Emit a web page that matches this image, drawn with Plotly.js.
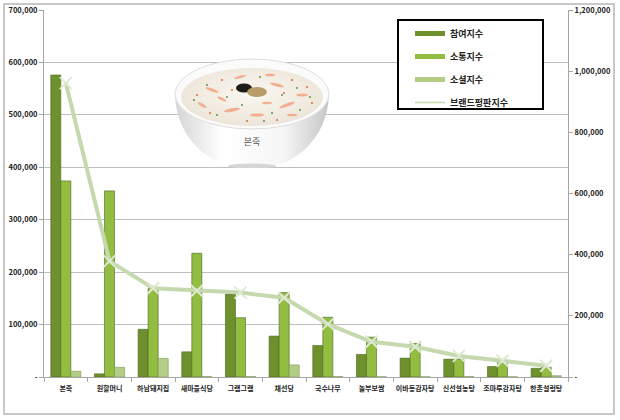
<!DOCTYPE html>
<html><head><meta charset="utf-8">
<script src="https://cdn.plot.ly/plotly-3.0.1.min.js"></script>
<style>
html,body{margin:0;padding:0;background:#fff;}
#wrap{position:relative;width:620px;height:420px;}
#chart{width:620px;height:420px;}
#frame{position:absolute;left:3px;top:3px;width:608px;height:408px;border:2px solid #c8c8c8;pointer-events:none;}
</style></head>
<body>
<div id="wrap"><div id="chart"></div><div id="frame"></div></div>
<script>
var categories = ['본죽','원할머니','하남돼지집','새마을식당','그램그램','채선당','국수나무','놀부보쌈','이바동감자탕','신선설농탕','조마루감자탕','한촌설렁탕'];
var participation = [576000, 6000, 91000, 48000, 158000, 78000, 60000, 43000, 36000, 34000, 20000, 16500];
var communication = [374000, 355000, 169000, 236000, 113000, 161000, 114000, 76000, 64000, 34000, 31000, 18500];
var social = [11000, 18500, 35600, 1000, 1000, 23000, 1000, 500, 500, 1000, 500, 2500];
var brandIndex = [961000, 379000, 290000, 282000, 276000, 259000, 173000, 115000, 99000, 69000, 53000, 37000];
var seriesNames = ['참여지수','소통지수','소셜지수','브랜드평판지수'];
var seriesColors = ['#6e912e','#92bd40','#b3cd85','#c5d8ae'];
var leftTicks = [0,100000,200000,300000,400000,500000,600000,700000];
var leftTickText = ['-','100,000','200,000','300,000','400,000','500,000','600,000','700,000'];
var rightTicks = [0,200000,400000,600000,800000,1000000,1200000];
var rightTickText = ['-','200,000','400,000','600,000','800,000','1,000,000','1,200,000'];

var FONT = '"Noto Sans CJK KR", "Noto Sans", sans-serif';

var bowlSvg = '<svg xmlns="http://www.w3.org/2000/svg" viewBox="0 0 160 113" width="160" height="113">' +
 '<defs><linearGradient id="b" x1="0" y1="0" x2="1" y2="0">' +
 '<stop offset="0" stop-color="#d4d4d4"/><stop offset="0.3" stop-color="#ffffff"/><stop offset="0.7" stop-color="#f6f6f6"/><stop offset="1" stop-color="#c6c6c6"/></linearGradient>' +
 '<radialGradient id="p" cx="0.5" cy="0.45" r="0.6"><stop offset="0" stop-color="#fbf8f2"/><stop offset="1" stop-color="#ebe3d6"/></radialGradient></defs>' +
 '<path d="M3,40 C5,88 42,108 58,111 L102,111 C118,108 155,88 157,40 Z" fill="url(#b)"/>' +
 '<ellipse cx="80" cy="111" rx="24" ry="2.5" fill="#d6d6d6"/>' +
 '<ellipse cx="80" cy="39" rx="77" ry="35" fill="#fbfbfb" stroke="#dedede" stroke-width="1"/>' +
 '<ellipse cx="80" cy="42" rx="71" ry="29" fill="url(#p)"/>' +
 '<g fill="#f1a582" opacity="0.85">' +
 '<ellipse cx="40" cy="35" rx="7" ry="1.6" transform="rotate(20 40 35)"/><ellipse cx="60" cy="55" rx="8" ry="1.7" transform="rotate(-10 60 55)"/>' +
 '<ellipse cx="105" cy="30" rx="7" ry="1.6" transform="rotate(15 105 30)"/><ellipse cx="115" cy="50" rx="8" ry="1.7" transform="rotate(-20 115 50)"/>' +
 '<ellipse cx="85" cy="60" rx="7" ry="1.6"/><ellipse cx="30" cy="50" rx="5" ry="1.4" transform="rotate(30 30 50)"/>' +
 '<ellipse cx="130" cy="40" rx="6" ry="1.4"/><ellipse cx="68" cy="22" rx="6" ry="1.4" transform="rotate(-15 68 22)"/>' +
 '<ellipse cx="95" cy="48" rx="5" ry="1.3"/><ellipse cx="50" cy="44" rx="5" ry="1.3" transform="rotate(25 50 44)"/>' +
 '<ellipse cx="120" cy="60" rx="5" ry="1.3"/><ellipse cx="98" cy="20" rx="5" ry="1.3"/>' +
 '</g><g fill="#e46f3a">' +
 '<circle cx="50" cy="25" r="1.1"/><circle cx="120" cy="25" r="1.1"/><circle cx="25" cy="40" r="1"/><circle cx="140" cy="48" r="1"/>' +
 '<circle cx="75" cy="66" r="1.1"/><circle cx="105" cy="65" r="1"/><circle cx="38" cy="58" r="1"/><circle cx="135" cy="32" r="1"/>' +
 '<circle cx="60" cy="35" r="1"/><circle cx="112" cy="38" r="1"/>' +
 '</g><g fill="#4f8a3c">' +
 '<circle cx="35" cy="30" r="0.9"/><circle cx="55" cy="42" r="0.9"/><circle cx="100" cy="58" r="0.9"/><circle cx="125" cy="33" r="0.9"/>' +
 '<circle cx="45" cy="60" r="0.9"/><circle cx="110" cy="40" r="0.9"/><circle cx="88" cy="22" r="0.9"/><circle cx="138" cy="42" r="0.9"/>' +
 '<circle cx="22" cy="45" r="0.9"/><circle cx="70" cy="50" r="0.9"/><circle cx="92" cy="66" r="0.9"/><circle cx="128" cy="55" r="0.9"/>' +
 '</g>' +
 '<ellipse cx="72" cy="33" rx="8" ry="4.5" fill="#1d1d18"/>' +
 '<ellipse cx="85" cy="37" rx="10" ry="5" fill="#b89c6a"/>' +
 '<text x="80" y="90" font-family="Noto Sans CJK KR" font-size="9" fill="#555" text-anchor="middle">본죽</text>' +
 '</svg>';

function px2x(p){ return (p-44)/524; }
function px2y(p){ return (377-p)/367; }

var barLine = {color:'#4a6420', width:0.6};
var traces = [
 {type:'bar', name:seriesNames[0], x:categories, y:participation, showlegend:false,
  marker:{color:seriesColors[0], line:barLine}},
 {type:'bar', name:seriesNames[1], x:categories, y:communication, showlegend:false,
  marker:{color:seriesColors[1], line:barLine}},
 {type:'bar', name:seriesNames[2], x:categories, y:social, showlegend:false,
  marker:{color:seriesColors[2], line:{color:'#7f9a55', width:0.6}}},
 {type:'scatter', mode:'lines+markers', name:seriesNames[3], x:categories, y:brandIndex, yaxis:'y2', showlegend:false,
  line:{color:seriesColors[3], width:4},
  marker:{symbol:'x-thin', size:12, color:'#dfe9d2', line:{color:'#dfe9d2', width:2}}}
];
// legend-only entries (flat bar-like swatches as in the reference)
var legendWidths = [5,5,5,1.5];
seriesNames.forEach(function(n,i){
  traces.push({type:'scatter', mode:'lines', name:n, x:[null], y:[null], legendgroup:'g'+i,
    line:{color:seriesColors[i], width:legendWidths[i]}, hoverinfo:'skip'});
});

var layout = {
 width:620, height:420,
 margin:{l:44, r:52, t:10, b:43, autoexpand:false},
 paper_bgcolor:'#fff', plot_bgcolor:'#fff',
 font:{family:FONT, size:8, color:'#222'},
 barmode:'group', bargap:0.31, bargroupgap:0,
 showlegend:true,
 legend:{x:px2x(410), y:px2y(19), xanchor:'left', yanchor:'top', bgcolor:'rgba(0,0,0,0)',
   borderwidth:0, font:{family:FONT, size:9, color:'#222', weight:'bold'}, tracegroupgap:4, traceorder:'grouped'},
 xaxis:{type:'category', range:[-0.5, categories.length-0.5], autorange:false, showgrid:false, showline:true, linecolor:'#a6a6a6', linewidth:1,
   ticks:'outside', tickson:'boundaries', ticklen:4, tickcolor:'#a6a6a6', tickangle:0, automargin:false, ticklabelstandoff:5,
   tickfont:{family:FONT, size:7, color:'#222', weight:'bold'}, fixedrange:true},
 yaxis:{range:[0,700000], tickvals:leftTicks, ticktext:leftTickText, showgrid:true, automargin:false,
   gridcolor:'#bfbfbf', gridwidth:1.2, showline:true, linecolor:'#a6a6a6', linewidth:1,
   ticks:'outside', ticklen:4, tickcolor:'#a6a6a6', zeroline:false,
   tickfont:{family:FONT, size:7.5, color:'#222', weight:'bold'}},
 yaxis2:{range:[0,1200000], tickvals:rightTicks, ticktext:rightTickText, overlaying:'y', side:'right',
   showgrid:false, showline:true, linecolor:'#a6a6a6', linewidth:1, zeroline:false, automargin:false,
   ticks:'outside', ticklen:4, tickcolor:'#a6a6a6',
   tickfont:{family:FONT, size:7.5, color:'#222', weight:'bold'}},
 shapes:[
  {type:'rect', xref:'paper', yref:'paper', x0:px2x(398), x1:px2x(543), y0:px2y(109), y1:px2y(20),
   line:{color:'#000', width:2}, fillcolor:'#fff', layer:'above'}
 ],
 images:[
  {source:'data:image/svg+xml;charset=utf-8,' + encodeURIComponent(bowlSvg),
   xref:'paper', yref:'paper', x:px2x(172), y:px2y(55), sizex:160/524, sizey:113/367,
   xanchor:'left', yanchor:'top', sizing:'stretch', layer:'above'}
 ]
};

Plotly.newPlot('chart', traces, layout, {displayModeBar:false, staticPlot:true});
</script>
</body></html>
